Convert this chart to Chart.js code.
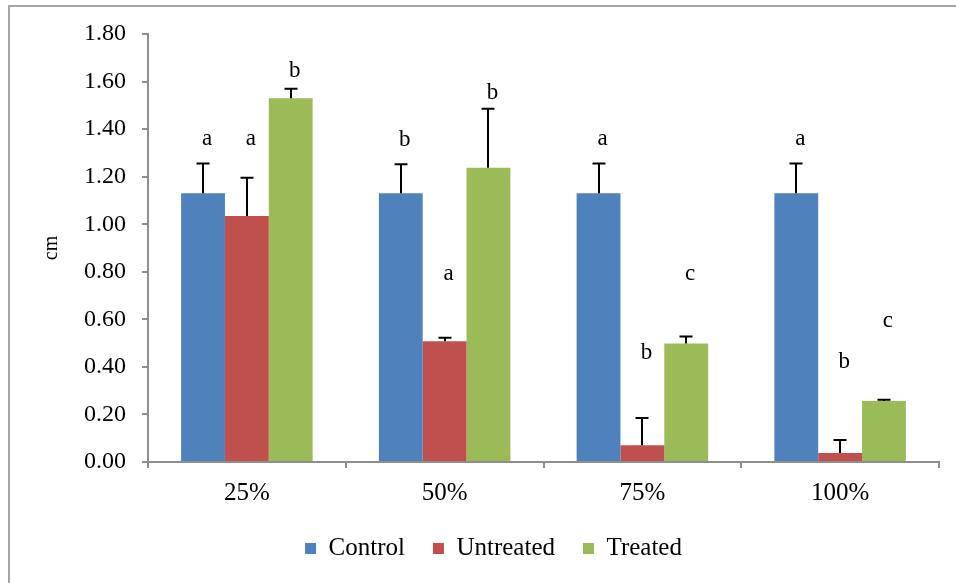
<!DOCTYPE html>
<html>
<head>
<meta charset="utf-8">
<script src="https://cdn.jsdelivr.net/npm/chart.js@4.4.1/dist/chart.umd.min.js"></script>
<style>
  html, body { margin: 0; padding: 0; background: #ffffff; }
  canvas { display: block; }
</style>
</head>
<body>
<canvas id="c" width="956" height="583"></canvas>
<script>
// ---- data ----
const categories = ['25%', '50%', '75%', '100%'];
const seriesNames = ['Control', 'Untreated', 'Treated'];
const controlValues   = [1.13, 1.13, 1.13, 1.13];
const untreatedValues = [1.035, 0.508, 0.07, 0.038];
const treatedValues   = [1.53, 1.238, 0.498, 0.257];
const controlErr   = [0.125, 0.122, 0.125, 0.125];
const untreatedErr = [0.16, 0.015, 0.115, 0.055];
const treatedErr   = [0.04, 0.248, 0.03, 0.005];
const controlLetters   = ['a', 'b', 'a', 'a'];
const untreatedLetters = ['a', 'a', 'b', 'b'];
const treatedLetters   = ['b', 'b', 'c', 'c'];
const controlLetterAt   = [1.36, 1.355, 1.36, 1.36];
const untreatedLetterAt = [1.36, 0.79, 0.46, 0.42];
const treatedLetterAt   = [1.645, 1.55, 0.79, 0.595];
const yTicks = [0, 0.2, 0.4, 0.6, 0.8, 1.0, 1.2, 1.4, 1.6, 1.8];

const colors = ['#4F81BD', '#C0504D', '#9BBB59'];
const errs = [controlErr, untreatedErr, treatedErr];
const letters = [controlLetters, untreatedLetters, treatedLetters];
const letterAt = [controlLetterAt, untreatedLetterAt, treatedLetterAt];
const SERIF = '"Liberation Serif", "Times New Roman", serif';

const framePlugin = {
  id: 'frame',
  beforeDraw(chart) {
    const ctx = chart.ctx;
    ctx.save();
    ctx.fillStyle = '#ffffff';
    ctx.fillRect(0, 0, chart.width, chart.height);
    ctx.strokeStyle = '#a6a6a6';
    ctx.lineWidth = 2;
    ctx.strokeRect(9, 6, chart.width + 20, chart.height + 20);
    ctx.restore();
  }
};

const errorPlugin = {
  id: 'errbars',
  afterDatasetsDraw(chart) {
    const ctx = chart.ctx;
    const y = chart.scales.y;
    ctx.save();
    ctx.strokeStyle = '#000000';
    ctx.lineWidth = 2;
    chart.data.datasets.forEach((ds, i) => {
      const meta = chart.getDatasetMeta(i);
      meta.data.forEach((bar, j) => {
        const top = y.getPixelForValue(ds.data[j] + errs[i][j]);
        const x = Math.round(bar.x);
        ctx.beginPath();
        ctx.moveTo(x, bar.y);
        ctx.lineTo(x, top);
        ctx.moveTo(x - 6.5, top);
        ctx.lineTo(x + 6.5, top);
        ctx.stroke();
      });
    });
    ctx.fillStyle = '#000000';
    ctx.font = '23px ' + SERIF;
    ctx.textAlign = 'center';
    ctx.textBaseline = 'middle';
    chart.data.datasets.forEach((ds, i) => {
      const meta = chart.getDatasetMeta(i);
      meta.data.forEach((bar, j) => {
        ctx.fillText(letters[i][j], bar.x + 4, y.getPixelForValue(letterAt[i][j]));
      });
    });
    ctx.restore();
  }
};

new Chart(document.getElementById('c'), {
  type: 'bar',
  data: {
    labels: categories,
    datasets: [
      { label: seriesNames[0], data: controlValues, backgroundColor: colors[0] },
      { label: seriesNames[1], data: untreatedValues, backgroundColor: colors[1] },
      { label: seriesNames[2], data: treatedValues, backgroundColor: colors[2] }
    ]
  },
  options: {
    responsive: false,
    devicePixelRatio: 1,
    animation: false,
    datasets: { bar: { barPercentage: 1.0, categoryPercentage: 0.665 } },
    layout: { padding: { left: 48, top: 34, right: 17, bottom: 12 } },
    plugins: {
      legend: {
        position: 'bottom',
        labels: {
          boxWidth: 11, boxHeight: 11, padding: 28,
          color: '#000000',
          font: { family: SERIF, size: 25 }
        }
      },
      tooltip: { enabled: false }
    },
    scales: {
      x: {
        afterFit(s) { s.height = 46; },
        grid: { offset: true, drawOnChartArea: false, drawTicks: true, tickLength: 6, color: '#8e8e8e', lineWidth: 2 },
        border: { color: '#8e8e8e', width: 2 },
        ticks: { color: '#000000', padding: 10, font: { family: SERIF, size: 25 } }
      },
      y: {
        min: 0, max: 1.8,
        afterFit(s) { s.width = 100; },
        afterBuildTicks(s) { s.ticks = yTicks.map(v => ({ value: v })); },
        grid: { drawOnChartArea: false, drawTicks: true, tickLength: 6, color: '#8e8e8e', lineWidth: 2 },
        border: { color: '#8e8e8e', width: 2 },
        ticks: {
          color: '#000000', padding: 16,
          font: { family: SERIF, size: 24 },
          callback: (v) => Number(v).toFixed(2)
        },
        title: {
          display: true, text: 'cm', color: '#000000',
          font: { family: SERIF, size: 20 },
          padding: { top: -8, bottom: 0 }
        }
      }
    }
  },
  plugins: [framePlugin, errorPlugin]
});
</script>
</body>
</html>
